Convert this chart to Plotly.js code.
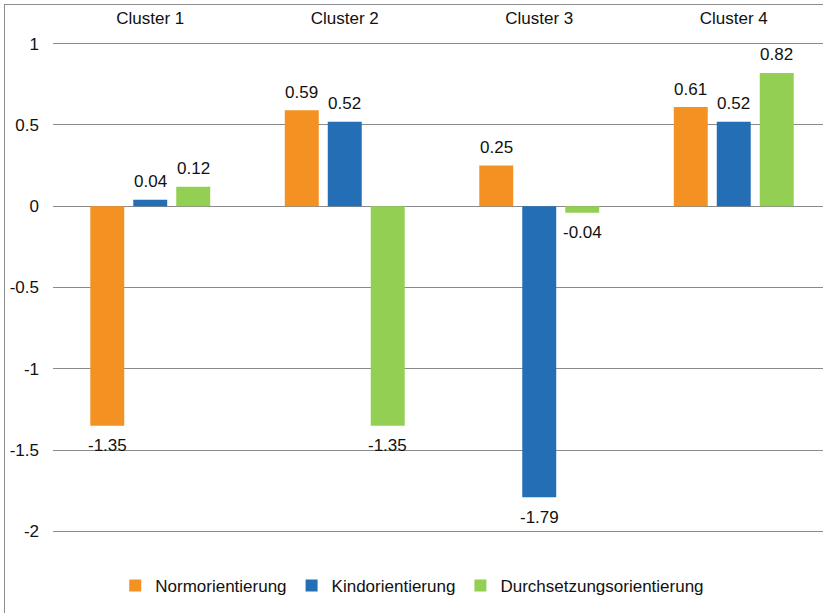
<!DOCTYPE html>
<html>
<head>
<meta charset="utf-8">
<script src="https://cdn.plot.ly/plotly-3.0.1.min.js"></script>
<style>
  html, body { margin: 0; padding: 0; background: #fff; overflow: hidden; }
  #wrap { position: relative; width: 823px; height: 613px; overflow: hidden; }
  #chart { position: absolute; left: 0; top: 0; }
  #frame { position: absolute; left: 4px; top: 4px; width: 900px; height: 700px;
           border-left: 1px solid #8c8c8c; border-top: 1px solid #8c8c8c; pointer-events: none; }
</style>
</head>
<body>
<div id="wrap">
  <div id="chart"></div>
  <div id="frame"></div>
</div>
<script>
// Cluster profiles: mean scores per orientation
const categories = ['Cluster 1', 'Cluster 2', 'Cluster 3', 'Cluster 4'];
const seriesNames = ['Normorientierung', 'Kindorientierung', 'Durchsetzungsorientierung'];
const normValues = [-1.35, 0.59, 0.25, 0.61];
const kindValues = [0.04, 0.52, -1.79, 0.52];
const durchValues = [0.12, -1.35, -0.04, 0.82];
const yTickVals = [-2, -1.5, -1, -0.5, 0, 0.5, 1];
const yTickText = ['-2', '-1.5', '-1', '-0.5', '0', '0.5', '1'];

const seriesValues = [normValues, kindValues, durchValues];
const colors = ['#F39222', '#236EB5', '#93CF52'];

const FONT = 'Liberation Sans, Arial, sans-serif';
const FS = 17;
const W = 840, H = 613;
const margin = { l: 53, r: 9, t: 42, b: 78 };
const bargap = 0.337, bargroupgap = 0.21;

const traces = seriesValues.map((vals, j) => ({
  type: 'bar',
  name: seriesNames[j],
  x: categories,
  y: vals,
  marker: { color: colors[j], line: { width: 0 } },
  hoverinfo: 'x+y+name'
}));

// value labels sit just beyond each bar end, shifted to the bar's slot in its group
const plotW = W - margin.l - margin.r;
const slotPx = (plotW / categories.length) * (1 - bargap) / seriesValues.length;
const annotations = [];
seriesValues.forEach((vals, j) => {
  vals.forEach((v, i) => {
    annotations.push({
      x: categories[i], y: v, xref: 'x', yref: 'y',
      xshift: (j - (seriesValues.length - 1) / 2) * slotPx,
      yshift: v >= 0 ? 18 : -20,
      text: v.toFixed(2),
      showarrow: false,
      xanchor: 'center', yanchor: 'middle',
      font: { family: FONT, size: FS, color: '#111' }
    });
  });
});

const layout = {
  width: W, height: H,
  margin: margin,
  paper_bgcolor: '#fff', plot_bgcolor: '#fff',
  barmode: 'group', bargap: bargap, bargroupgap: bargroupgap,
  font: { family: FONT, size: FS, color: '#111' },
  xaxis: {
    type: 'category', side: 'top',
    showgrid: false, showline: false, zeroline: false,
    ticks: '', ticklabelstandoff: 14,
    tickfont: { family: FONT, size: FS, color: '#111' },
    fixedrange: true
  },
  yaxis: {
    range: [-2.01, 1.01],
    tickvals: yTickVals, ticktext: yTickText,
    showgrid: true, gridcolor: '#8a8a8a', gridwidth: 1,
    zeroline: true, zerolinecolor: '#8a8a8a', zerolinewidth: 1,
    showline: false, ticks: '', ticklabelstandoff: 13,
    tickfont: { family: FONT, size: FS, color: '#111' },
    fixedrange: true
  },
  showlegend: true,
  legend: {
    orientation: 'h', xanchor: 'left', yanchor: 'middle',
    x: 0.08, y: -0.108,
    font: { family: FONT, size: FS, color: '#111' },
    bgcolor: 'rgba(0,0,0,0)', traceorder: 'normal'
  },
  annotations: annotations
};

Plotly.newPlot('chart', traces, layout, { displayModeBar: false, staticPlot: true });
</script>
</body>
</html>
